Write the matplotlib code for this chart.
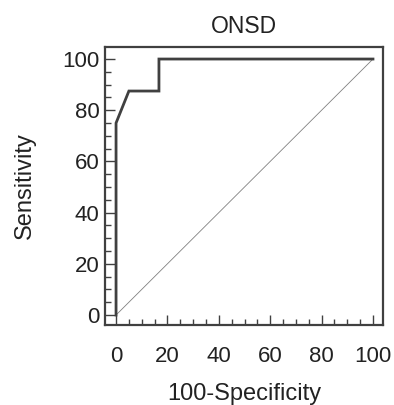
import numpy as np
import matplotlib
matplotlib.use("Agg")
import matplotlib.pyplot as plt
from matplotlib.ticker import MultipleLocator

plt.rcParams["font.family"] = ["Liberation Sans", "DejaVu Sans"]

fpr = [0, 0, 5, 16.7, 16.7, 100]
tpr = [0, 75, 87.5, 87.5, 100, 100]
diag = [0, 100]

col = "#404040"
fig = plt.figure(figsize=(3.94, 4.05), dpi=100)
ax = fig.add_axes([105/394, 1 - 325/405, 278/394, 278/405])

ax.plot(diag, diag, color="#808080", lw=0.6)
ax.plot(fpr, tpr, color=col, lw=2.0, solid_joinstyle="miter")

ax.set_xlim(-4.3, 103.9)
ax.set_ylim(-3.9, 104.7)
ax.xaxis.set_major_locator(MultipleLocator(20))
ax.xaxis.set_minor_locator(MultipleLocator(5))
ax.yaxis.set_major_locator(MultipleLocator(20))
ax.yaxis.set_minor_locator(MultipleLocator(5))
ax.tick_params(which="both", direction="in", colors=col, labelcolor="#222222", labelsize=16)
ax.tick_params(which="major", length=7, width=1)
ax.tick_params(which="minor", length=4, width=1)
ax.tick_params(axis="x", pad=15)
ax.tick_params(axis="y", pad=4)
for s in ax.spines.values():
    s.set_color(col)
    s.set_linewidth(1.6)

ax.set_title("ONSD", fontsize=16.5, color="#222222", pad=10)
ax.set_xlabel("100-Specificity", fontsize=17, color="#222222")
ax.set_ylabel("Sensitivity", fontsize=17, color="#222222")
ax.xaxis.set_label_coords(0.5, -0.21)
ax.yaxis.set_label_coords(-0.25, 0.5)

fig.savefig("out.png", dpi=100)
